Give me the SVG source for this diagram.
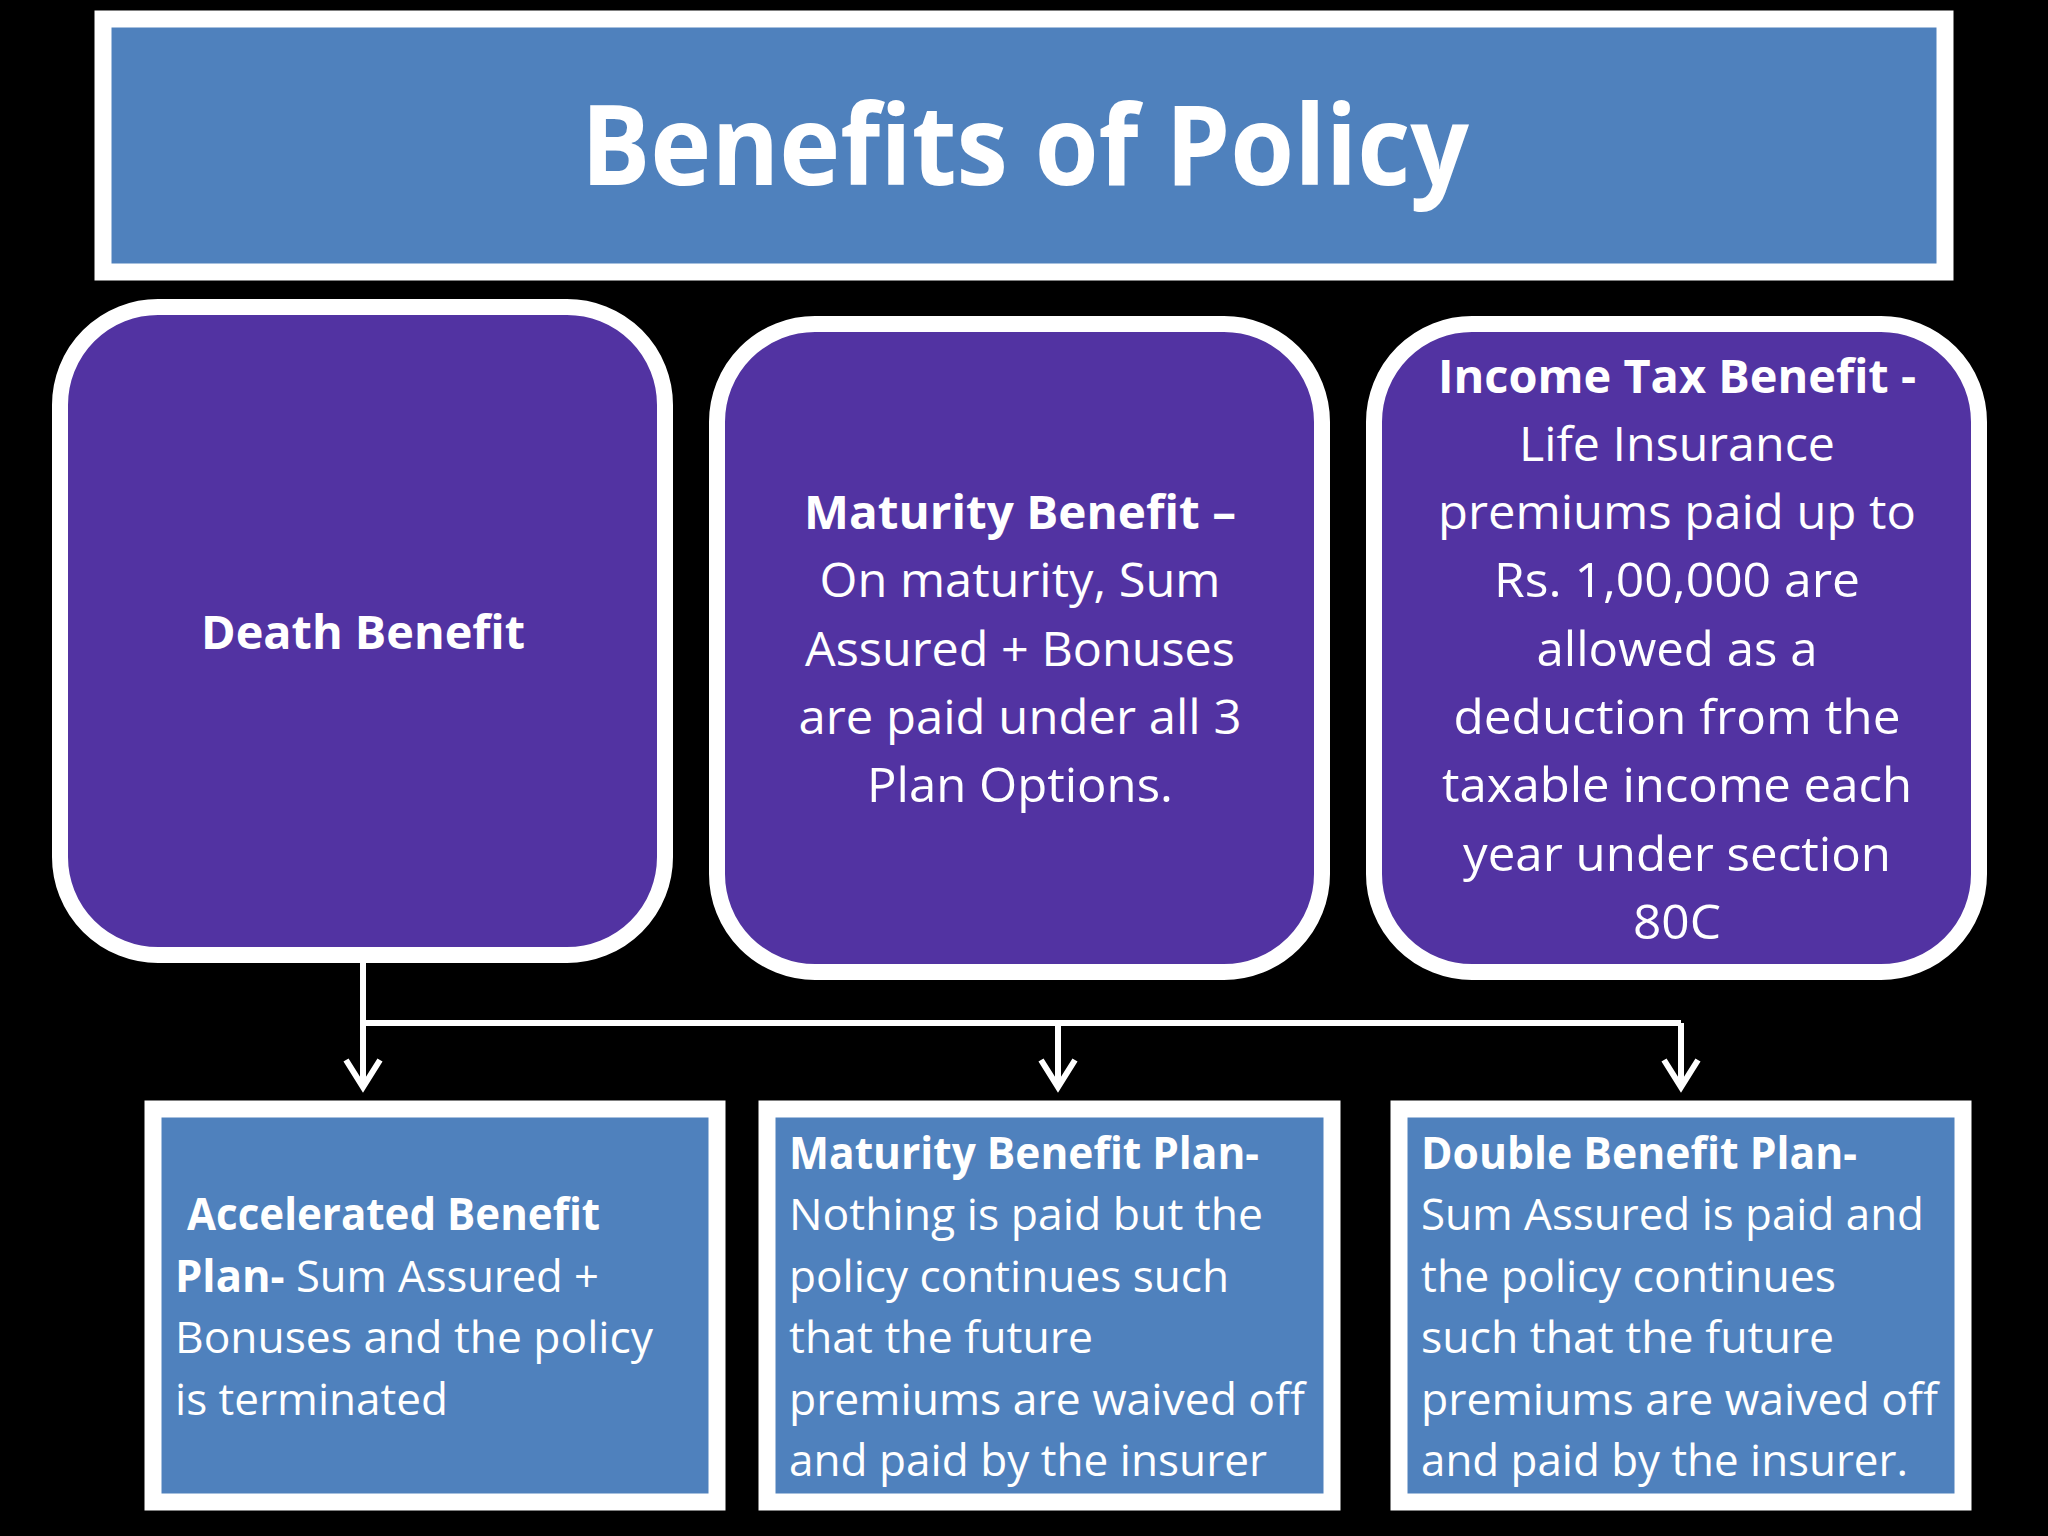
<svg xmlns="http://www.w3.org/2000/svg" width="2048" height="1536" viewBox="0 0 2048 1536">
<defs>
<style>
text{font-family:"Open Sans","Liberation Sans",sans-serif;fill:#fff}
.b{font-weight:bold}
.m{font-size:47px;text-anchor:middle}
.s{font-size:44px}
.blue{fill:#4F81BD;stroke:#fff;stroke-width:17}
.pur{fill:#5233A2;stroke:#fff;stroke-width:16}
.c{fill:none;stroke:#fff;stroke-width:6}
</style>
<marker id="ah" viewBox="0 0 20 20" refX="10" refY="18" markerWidth="20" markerHeight="20" markerUnits="userSpaceOnUse" orient="auto-start-reverse">
</marker>
</defs>
<rect width="2048" height="1536" fill="#000"/>
<g id="title">
<rect class="blue" x="103" y="19" width="1842" height="253"/>
<text x="1025" y="185" class="b" font-size="112" text-anchor="middle" textLength="888" lengthAdjust="spacingAndGlyphs">Benefits of Policy</text>
</g>
<g id="death">
<rect class="pur" x="60" y="307" width="605" height="648" rx="98"/>
<text x="363" y="649" class="m b" textLength="324" lengthAdjust="spacingAndGlyphs">Death Benefit</text>
</g>
<g id="maturity">
<rect class="pur" x="717" y="324" width="605" height="648" rx="98"/>
<text x="1020" y="529" class="m b" textLength="432" lengthAdjust="spacingAndGlyphs">Maturity Benefit –</text>
<text x="1020" y="597" class="m" textLength="401" lengthAdjust="spacingAndGlyphs">On maturity, Sum</text>
<text x="1020" y="666" class="m" textLength="430" lengthAdjust="spacingAndGlyphs">Assured + Bonuses</text>
<text x="1020" y="734" class="m" textLength="443" lengthAdjust="spacingAndGlyphs">are paid under all 3</text>
<text x="1020" y="802" class="m" textLength="306" lengthAdjust="spacingAndGlyphs">Plan Options.</text>
</g>
<g id="income">
<rect class="pur" x="1374" y="324" width="605" height="648" rx="98"/>
<text x="1677" y="393" class="m b" textLength="478" lengthAdjust="spacingAndGlyphs">Income Tax Benefit -</text>
<text x="1677" y="461" class="m" textLength="316" lengthAdjust="spacingAndGlyphs">Life Insurance</text>
<text x="1677" y="529" class="m" textLength="478" lengthAdjust="spacingAndGlyphs">premiums paid up to</text>
<text x="1677" y="597" class="m" textLength="366" lengthAdjust="spacingAndGlyphs">Rs. 1,00,000 are</text>
<text x="1677" y="666" class="m" textLength="281" lengthAdjust="spacingAndGlyphs">allowed as a</text>
<text x="1677" y="734" class="m" textLength="447" lengthAdjust="spacingAndGlyphs">deduction from the</text>
<text x="1677" y="802" class="m" textLength="470" lengthAdjust="spacingAndGlyphs">taxable income each</text>
<text x="1677" y="871" class="m" textLength="428" lengthAdjust="spacingAndGlyphs">year under section</text>
<text x="1677" y="939" class="m" textLength="88" lengthAdjust="spacingAndGlyphs">80C</text>
</g>
<g id="connectors" class="c">
<path class="c" d="M363 963 V1023 H1681"/>
<path class="c" d="M363 1023 V1087 M1058 1023 V1087 M1681 1023 V1087"/>
<path class="c" d="M346 1060 L363 1087 L380 1060 M1041 1060 L1058 1087 L1075 1060 M1664 1060 L1681 1087 L1698 1060"/>
</g>
<g id="accelerated">
<rect class="blue" x="153" y="1109" width="564" height="393"/>
<text x="187" y="1230" class="s b" textLength="413" lengthAdjust="spacingAndGlyphs">Accelerated Benefit</text>
<text x="175" y="1292" class="s" textLength="424" lengthAdjust="spacingAndGlyphs"><tspan class="b">Plan-</tspan> Sum Assured +</text>
<text x="175" y="1353" class="s" textLength="478" lengthAdjust="spacingAndGlyphs">Bonuses and the policy</text>
<text x="175" y="1415" class="s" textLength="273" lengthAdjust="spacingAndGlyphs">is terminated</text>
</g>
<g id="maturityplan">
<rect class="blue" x="767" y="1109" width="565" height="393"/>
<text x="789" y="1169" class="s b" textLength="470" lengthAdjust="spacingAndGlyphs">Maturity Benefit Plan-</text>
<text x="789" y="1230" class="s" textLength="474" lengthAdjust="spacingAndGlyphs">Nothing is paid but the</text>
<text x="789" y="1292" class="s" textLength="440" lengthAdjust="spacingAndGlyphs">policy continues such</text>
<text x="789" y="1353" class="s" textLength="304" lengthAdjust="spacingAndGlyphs">that the future</text>
<text x="789" y="1415" class="s" textLength="516" lengthAdjust="spacingAndGlyphs">premiums are waived off</text>
<text x="789" y="1476" class="s" textLength="478" lengthAdjust="spacingAndGlyphs">and paid by the insurer</text>
</g>
<g id="doubleplan">
<rect class="blue" x="1399" y="1109" width="564" height="393"/>
<text x="1421" y="1169" class="s b" textLength="436" lengthAdjust="spacingAndGlyphs">Double Benefit Plan-</text>
<text x="1421" y="1230" class="s" textLength="503" lengthAdjust="spacingAndGlyphs">Sum Assured is paid and</text>
<text x="1421" y="1292" class="s" textLength="415" lengthAdjust="spacingAndGlyphs">the policy continues</text>
<text x="1421" y="1353" class="s" textLength="413" lengthAdjust="spacingAndGlyphs">such that the future</text>
<text x="1421" y="1415" class="s" textLength="517" lengthAdjust="spacingAndGlyphs">premiums are waived off</text>
<text x="1421" y="1476" class="s" textLength="487" lengthAdjust="spacingAndGlyphs">and paid by the insurer.</text>
</g>
</svg>
